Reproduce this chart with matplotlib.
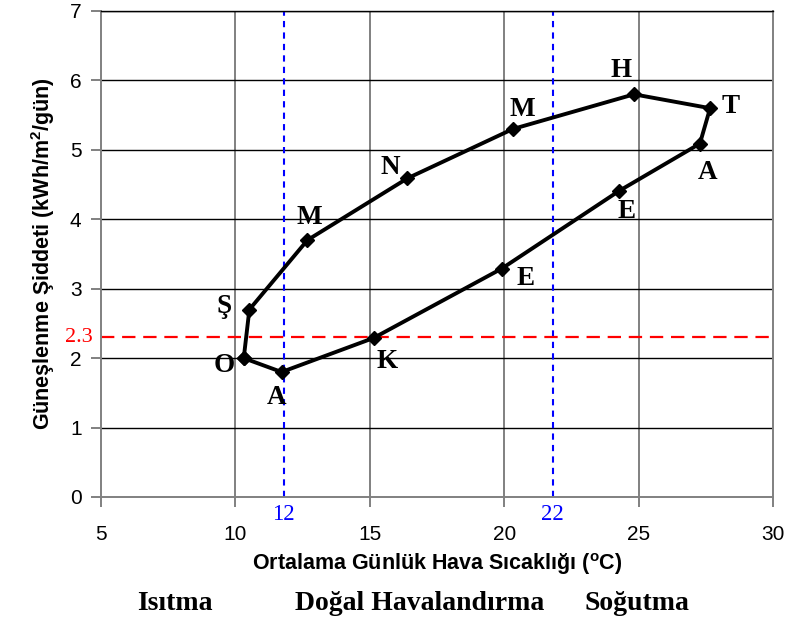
import matplotlib.pyplot as plt

plt.rcParams['font.family'] = ['Liberation Sans', 'DejaVu Sans']
plt.rcParams['mathtext.fontset'] = 'custom'
plt.rcParams['mathtext.rm'] = 'Liberation Sans'
plt.rcParams['mathtext.bf'] = 'Liberation Sans:bold'

# monthly values (Jan..Dec), closed loop back to Jan
months = ["O", "Ş", "M", "N", "M", "H", "T", "A", "E", "E", "K", "A"]
temp = [10.31, 10.52, 12.68, 16.40, 20.32, 24.83, 27.66, 27.28, 24.28, 19.91, 15.14, 11.72]
solar = [2.00, 2.70, 3.70, 4.59, 5.30, 5.80, 5.60, 5.09, 4.41, 3.29, 2.29, 1.80]
label_offsets = [(-14, -5), (-18, 2), (1, 16), (-12, 8), (6.5, 14), (-9, 17),
                 (15, 1), (5.5, -21), (5.3, -15), (17, -7), (10, -17), (-4, -18)]

# comfort limits
t_low, t_high = 11.8, 21.8
t_low_label, t_high_label = "12", "22"
solar_limit = 2.3

zones = ["Isıtma", "Doğal Havalandırma", "Soğutma"]
zone_x = [175, 420, 637]

fig = plt.figure(figsize=(7.88, 6.23), dpi=100)
ax = fig.add_axes([101 / 788, 126 / 623, 672 / 788, 486 / 623])

ax.set_xlim(5, 30)
ax.set_ylim(0, 7)
ax.set_xticks([5, 10, 15, 20, 25, 30])
ax.set_yticks(range(8))

# grid
for x in [10, 15, 20, 25]:
    ax.axvline(x, color="#808080", lw=1.4, zorder=1)
for y in range(1, 8):
    ax.axhline(y, color="black", lw=1.0, zorder=1)
for s in ax.spines.values():
    s.set_color("#808080")
    s.set_linewidth(1.4)
ax.spines["top"].set_color("black")
ax.spines["top"].set_linewidth(1.0)

ax.tick_params(axis="both", direction="out", length=7, width=1.4, color="#808080",
               labelsize=15)
ax.tick_params(axis="y", pad=7)
ax.tick_params(axis="x", pad=13)

# reference lines
ax.axvline(t_low, color="blue", lw=1.5, ls=(0, (3, 2.5)), zorder=2)
ax.axvline(t_high, color="blue", lw=1.5, ls=(0, (3, 2.5)), zorder=2)
ax.axhline(solar_limit, color="red", lw=1.6, ls=(0, (6, 3.5)), zorder=2)

ax.text(t_low, -0.037, t_low_label, transform=ax.get_xaxis_transform(), color="blue",
        ha="center", va="center", fontsize=16.5, family="Liberation Serif")
ax.text(t_high, -0.037, t_high_label, transform=ax.get_xaxis_transform(), color="blue",
        ha="center", va="center", fontsize=16.5, family="Liberation Serif")
ax.text(-0.012, solar_limit, str(solar_limit), transform=ax.get_yaxis_transform(),
        color="red", ha="right", va="center", fontsize=16, family="Liberation Serif")

# loop
ax.plot(temp + temp[:1], solar + solar[:1], color="black", lw=2.8, marker="D",
        markersize=7.5, zorder=4, clip_on=False)

for m, x, y, off in zip(months, temp, solar, label_offsets):
    ax.annotate(m, (x, y), xytext=off, textcoords="offset points", ha="center",
                va="center", fontsize=19.5, fontweight="bold", family="Liberation Serif")

ax.set_xlabel(r"Ortalama Günlük Hava Sıcaklığı ($^{\mathbf{o}}$C)", fontsize=15.5,
              fontweight="bold", labelpad=5)
ax.set_ylabel(r"Güneşlenme Şiddeti (kWh/m$^{\mathbf{2}}$/gün)", fontsize=15.5,
              fontweight="bold", labelpad=9)

for z, zx in zip(zones, zone_x):
    fig.text(zx / 788, 1 - 603 / 623, z, ha="center", va="center", fontsize=20,
             fontweight="bold", family="Liberation Serif")

plt.savefig("out.png", dpi=100)
plt.close()
